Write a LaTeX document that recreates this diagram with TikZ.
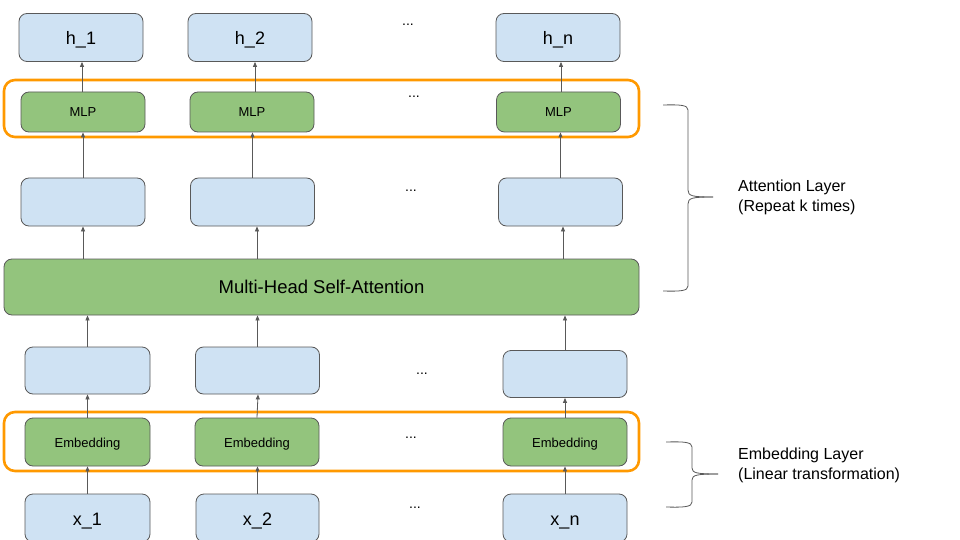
\documentclass[tikz,border=0pt]{standalone}
\usepackage{fontspec}
\setmainfont{Liberation Sans}
\usetikzlibrary{arrows.meta,calc}
\definecolor{cblue}{HTML}{CFE2F3}
\definecolor{cgreen}{HTML}{93C47D}
\definecolor{cgray}{HTML}{595959}
\definecolor{corange}{HTML}{FF9900}
\tikzset{
  box/.style={draw=cgray, line width=0.8pt, rounded corners=8pt, inner sep=0pt, text=black, text depth=0pt},
  bluebox/.style={box, fill=cblue, minimum width=124pt, minimum height=48pt, font=\fontsize{18}{20}\selectfont, text height=14pt},
  greenbox/.style={box, fill=cgreen, minimum width=124pt, font=\fontsize{13}{15}\selectfont, text height=10pt},
  arr/.style={draw=cgray, line width=0.8pt, -{Triangle[length=5pt,width=4pt]}},
  frame/.style={draw=corange, line width=2.6pt, rounded corners=11pt},
  dotsnode/.style={anchor=base, inner sep=0pt, font=\fontsize{14}{16}\selectfont},
  brace/.style={draw=cgray, line width=0.8pt},
  lbl/.style={anchor=west, align=left, inner sep=0pt, font=\fontsize{16}{20}\selectfont}
}
\begin{document}
\begin{tikzpicture}[x=1pt,y=-1pt]
\useasboundingbox (0,0) rectangle (960,540);
\fill[white] (0,0) rectangle (960,540);
% orange frames
\draw[frame] (4,80) rectangle (639,137);
\draw[frame] (4,412) rectangle (639,471);
% top row
\node[bluebox] (h1) at (81,37.5) {h\_1};
\node[bluebox] (h2) at (250,37.5) {h\_2};
\node[bluebox] (hn) at (558,37.5) {h\_n};
\node[dotsnode] (d1) at (408,26) {...};
% MLP row
\node[greenbox, minimum height=40pt] (mlp1) at (83,112) {MLP};
\node[greenbox, minimum height=40pt] (mlp2) at (252,112) {MLP};
\node[greenbox, minimum height=40pt] (mlpn) at (558.5,112) {MLP};
\node[dotsnode] (d2) at (414,98) {...};
% middle row
\node[bluebox] (m1) at (83,202) {};
\node[bluebox] (m2) at (252.5,202) {};
\node[bluebox] (mn) at (560.5,202) {};
\node[dotsnode] (d3) at (411,191) {...};
% attention
\node[box, fill=cgreen, minimum width=635pt, minimum height=56pt, font=\fontsize{18.5}{20}\selectfont, text height=12.5pt] (att) at (321.5,287) {Multi-Head Self-Attention};
% lower row
\node[bluebox, minimum width=125pt, minimum height=47pt] (l1) at (87.5,370.5) {};
\node[bluebox, minimum height=47pt] (l2) at (257.5,370.5) {};
\node[bluebox, minimum height=47pt] (ln) at (565,374) {};
\node[dotsnode] (d4) at (422,374) {...};
% embedding row
\node[greenbox, minimum width=125pt, minimum height=48pt] (e1) at (87.5,442) {Embedding};
\node[greenbox, minimum height=48pt] (e2) at (257,442) {Embedding};
\node[greenbox, minimum height=48pt] (en) at (565,442) {Embedding};
\node[dotsnode] (d5) at (411,438) {...};
% input row
\node[bluebox, minimum width=125pt] (x1) at (87.5,518) {x\_1};
\node[bluebox, minimum width=123pt] (x2) at (257.5,518) {x\_2};
\node[bluebox] (xn) at (565,518) {x\_n};
\node[dotsnode] (d6) at (415,508) {...};
% arrows
\draw[arr] ([xshift=-1pt]mlp1.north) -- ([xshift=-1pt]mlp1.north |- h1.south);
\draw[arr] ([xshift=3pt]mlp2.north) -- ([xshift=3pt]mlp2.north |- h2.south);
\draw[arr] ([xshift=2.5pt]mlpn.north) -- ([xshift=2.5pt]mlpn.north |- hn.south);
\draw[arr] (m1.north) -- (m1.north |- mlp1.south);
\draw[arr] (m2.north) -- (m2.north |- mlp2.south);
\draw[arr] (mn.north) -- (mn.north |- mlpn.south);
\draw[arr] (m1.south |- att.north) -- (m1.south);
\draw[arr] ([xshift=4.5pt]m2.south |- att.north) -- ([xshift=4.5pt]m2.south);
\draw[arr] ([xshift=2.5pt]mn.south |- att.north) -- ([xshift=2.5pt]mn.south);
\draw[arr] (l1.north) -- (l1.north |- att.south);
\draw[arr] (l2.north) -- (l2.north |- att.south);
\draw[arr] (ln.north) -- (ln.north |- att.south);
\draw[arr] (e1.north) -- (e1.north |- l1.south);
\draw[arr] (e2.north) -- ([xshift=1pt]e2.north |- l2.south);
\draw[arr] (en.north) -- (en.north |- ln.south);
\draw[arr] (x1.north) -- (x1.north |- e1.south);
\draw[arr] (x2.north) -- (x2.north |- e2.south);
\draw[arr] (xn.north) -- (xn.north |- en.south);
% braces
\coordinate (b1top) at (663,105);
\coordinate (b1tip) at (713,197);
\coordinate (b1bot) at (663,291);
\draw[brace] (b1top) .. controls (680,104.5) and (688,105) .. (688,110)
  -- (688,190) .. controls (688,196) and (692,197) .. (b1tip);
\draw[brace] (b1bot) .. controls (680,291.5) and (688,291) .. (688,286)
  -- (688,204) .. controls (688,198) and (692,197) .. (b1tip);
\coordinate (b2top) at (666,442);
\coordinate (b2tip) at (718,474);
\coordinate (b2bot) at (666,507);
\draw[brace] (b2top) .. controls (684,441.5) and (692,442) .. (692,447)
  -- (692,468) .. controls (692,473) and (697,474) .. (b2tip);
\draw[brace] (b2bot) .. controls (684,507.5) and (692,507) .. (692,502)
  -- (692,480) .. controls (692,475) and (697,474) .. (b2tip);
% labels
\node[lbl] (t1) at (738,197) {Attention Layer\\(Repeat k times)};
\node[lbl] (t2) at (738,465.5) {Embedding Layer\\(Linear transformation)};
\end{tikzpicture}
\end{document}
